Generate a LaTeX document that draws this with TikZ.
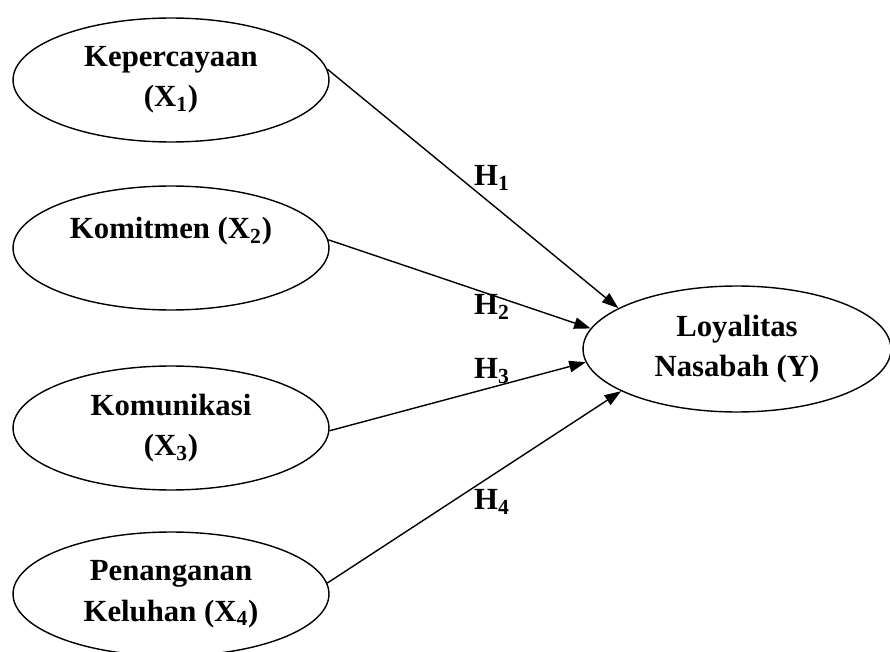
\documentclass[tikz,border=0pt]{standalone}
\usepackage{fontspec}
\setmainfont{Liberation Serif}
\usetikzlibrary{shapes.geometric,arrows.meta,positioning}

\tikzset{
	varbox/.style={draw, ellipse, line width=0.8pt, inner sep=0pt, align=center,
		minimum width=6.32cm, minimum height=2.48cm, font=\fontsize{17.5}{23}\selectfont\bfseries},
	hyplabel/.style={font=\fontsize{17.5}{23}\selectfont\bfseries},
	link/.style={-{Triangle[length=0.33cm,width=0.23cm]}, line width=0.8pt}
}

\begin{document}
\begin{tikzpicture}[x=0.02cm,y=-0.02cm]
			\useasboundingbox (0,0) rectangle (890,652);
			% independent variables
			\node[varbox] (X1) at (171,80) {Kepercayaan\\(X\textsubscript{1})};
			\node[varbox] (X2) at (171,248) {Komitmen (X\textsubscript{2})\\~};
			\node[varbox] (X3) at (171,428) {Komunikasi\\(X\textsubscript{3})};
			\node[varbox] (X4) at (171,594) {Penanganan\\Keluhan (X\textsubscript{4})};
			% dependent variable
			\node[varbox, minimum width=6.16cm, minimum height=2.52cm] (Y) at (737,349) {Loyalitas\\Nasabah (Y)};
			% hypotheses
			\draw[link] (X1.4) -- (Y.161);
			\draw[link] (X2.3) -- (Y.172);
			\draw[link] (X3.359) -- (Y.185);
			\draw[link] (X4.4) -- (Y.200);
			% labels
			\node[hyplabel] (H1) at (492,178) {H\textsubscript{1}};
			\node[hyplabel] (H2) at (492,307) {H\textsubscript{2}};
			\node[hyplabel] (H3) at (492,371) {H\textsubscript{3}};
			\node[hyplabel] (H4) at (492,502) {H\textsubscript{4}};
\end{tikzpicture}
\end{document}
